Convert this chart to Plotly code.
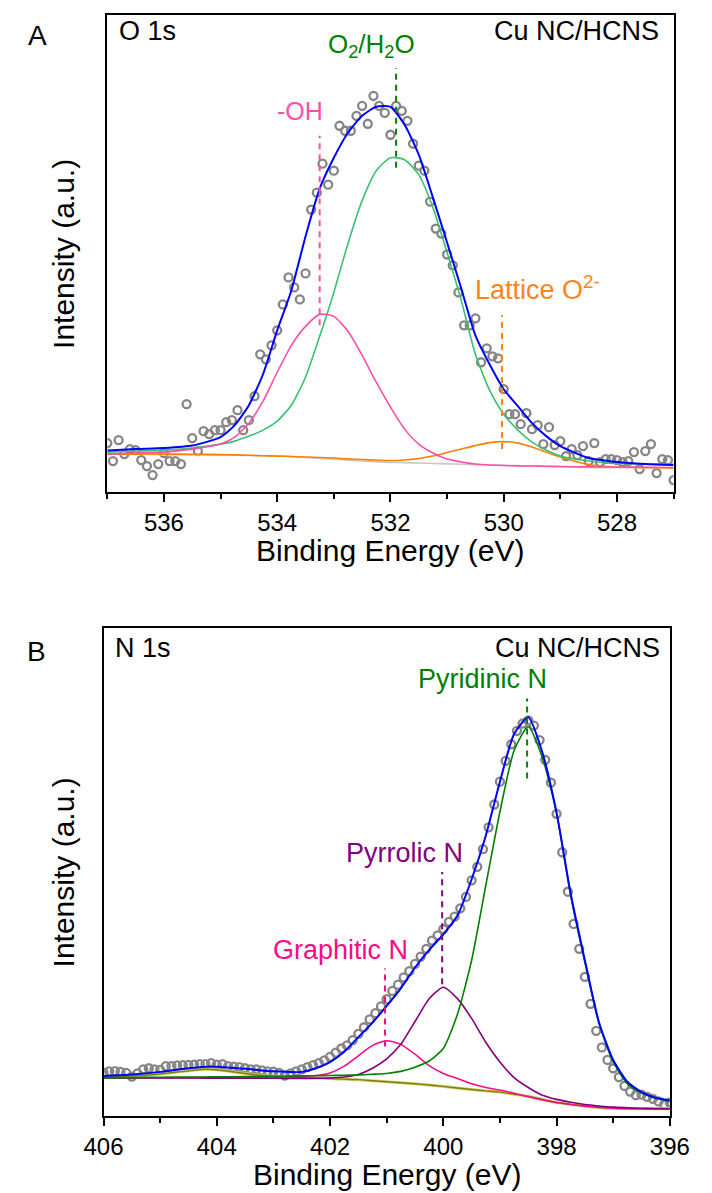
import plotly.graph_objects as go

W, H = 712, 1193

# ---------------- Panel A : O 1s ----------------
A_energy = [537.0, 536.9, 536.8, 536.7, 536.6, 536.5, 536.4, 536.3, 536.2, 536.1,
            536.0, 535.9, 535.8, 535.7, 535.6, 535.5, 535.4, 535.3, 535.2, 535.1,
            535.0, 534.9, 534.8, 534.7, 534.6, 534.5, 534.4, 534.3, 534.2, 534.1,
            534.0, 533.9, 533.8, 533.7, 533.6, 533.5, 533.4, 533.3, 533.2, 533.1,
            533.0, 532.9, 532.8, 532.7, 532.6, 532.5, 532.4, 532.3, 532.2, 532.1,
            532.0, 531.9, 531.8, 531.7, 531.6, 531.5, 531.4, 531.3, 531.2, 531.1,
            531.0, 530.9, 530.8, 530.7, 530.6, 530.5, 530.4, 530.3, 530.2, 530.1,
            530.0, 529.9, 529.8, 529.7, 529.6, 529.5, 529.4, 529.3, 529.2, 529.1,
            529.0, 528.9, 528.8, 528.7, 528.6, 528.5, 528.4, 528.3, 528.2, 528.1,
            528.0, 527.9, 527.8, 527.7, 527.6, 527.5, 527.4, 527.3, 527.2, 527.1, 527.0]
A_counts = [49, 31, 52, 38, 43, 42, 32, 26, 17, 28,
            39, 31, 31, 28, 88, 54, 41, 61, 58, 62,
            62, 70, 72, 82, 62, 72, 96, 138, 133, 147,
            162, 188, 215, 205, 193, 219, 283, 300, 329, 308,
            322, 367, 362, 362, 377, 387, 369, 397, 387, 380,
            358, 387, 382, 372, 349, 327, 322, 291, 264, 259,
            238, 227, 200, 167, 167, 174, 130, 144, 136, 134,
            103, 78, 78, 68, 79, 63, 67, 48, 65, 47,
            51, 36, 43, 37, 46, 31, 49, 30, 33, 33,
            32, 30, 31, 40, 23, 41, 48, 19, 33, 32, 12]

A_fit_energy = [537.0, 536.5, 536.0, 535.5, 535.0, 534.75, 534.5, 534.25, 534.0, 533.75,
                533.5, 533.25, 533.0, 532.75, 532.5, 532.25, 532.0, 531.75, 531.5, 531.25,
                531.0, 530.75, 530.5, 530.25, 530.0, 529.75, 529.5, 529.25, 529.0, 528.5,
                528.0, 527.5, 527.0]
A_envelope = [41.5, 43, 44, 46.5, 55, 67, 87, 118, 162, 202,
              256, 304, 335, 360, 377, 386, 386, 368, 338, 295,
              250, 204, 157, 128, 103, 86, 69, 56, 46, 34,
              30, 28, 27]
A_O2H2O = [40, 41, 42, 44, 48, 51, 56, 62, 71, 87,
           115, 156, 200, 249, 292, 322, 335, 333, 318, 285,
           240, 192, 138, 102, 78, 62, 50, 42, 36, 31,
           28.5, 28, 28]
A_OH = [38, 39, 40, 43, 48, 55, 69, 91, 120, 147,
        166, 178, 176, 161, 137, 110, 85, 63, 48, 39,
        33, 30, 28, 27, 26.5, 26.2, 26, 25.8, 25.5, 25.2,
        25, 24.8, 24.5]
A_lattice = [38, 38, 38, 37.8, 37.5, 37.2, 36.8, 36.4, 36, 35.5,
             35, 34.5, 34, 33.2, 32.5, 32, 31.5, 32, 33.5, 36,
             39.5, 43, 46.5, 49.5, 50.5, 49, 45, 40, 35, 27.5,
             25, 24.5, 24]
A_background = [38, 37.8, 37.5, 37.2, 37, 36.8, 36.6, 36.3, 36, 35.5,
                34.6, 33.7, 32.8, 31.9, 31, 30.2, 29.7, 29.3, 29, 28.6,
                28.2, 27.8, 27.4, 27.1, 26.8, 26.4, 26, 25.6, 25.3, 24.5,
                24.3, 24.2, 24]
A_peak_names = ["-OH", "O<sub>2</sub>/H<sub>2</sub>O", "Lattice O<sup>2-</sup>"]
A_peak_centers = [533.25, 531.9, 530.03]

# ---------------- Panel B : N 1s ----------------
B_energy = [406.0, 405.9, 405.8, 405.7, 405.6, 405.5, 405.4, 405.3, 405.2, 405.1,
            405.0, 404.9, 404.8, 404.7, 404.6, 404.5, 404.4, 404.3, 404.2, 404.1,
            404.0, 403.9, 403.8, 403.7, 403.6, 403.5, 403.4, 403.3, 403.2, 403.1,
            403.0, 402.9, 402.8, 402.7, 402.6, 402.5, 402.4, 402.3, 402.2, 402.1,
            402.0, 401.9, 401.8, 401.7, 401.6, 401.5, 401.4, 401.3, 401.2, 401.1,
            401.0, 400.9, 400.8, 400.7, 400.6, 400.5, 400.4, 400.3, 400.2, 400.1,
            400.0, 399.9, 399.8, 399.7, 399.6, 399.5, 399.4, 399.3, 399.2, 399.1,
            399.0, 398.9, 398.8, 398.7, 398.6, 398.5, 398.4, 398.3, 398.2, 398.1,
            398.0, 397.9, 397.8, 397.7, 397.6, 397.5, 397.4, 397.3, 397.2, 397.1,
            397.0, 396.9, 396.8, 396.7, 396.6, 396.5, 396.4, 396.3, 396.2, 396.1, 396.0]
B_counts = [41.7, 43, 43.3, 42.5, 41.5, 38, 41, 45, 46, 45,
            44.5, 48, 48, 48.7, 49, 49.3, 49.5, 50, 50, 51,
            49.5, 50, 48, 47.5, 47, 46, 45, 45, 44, 43,
            42.7, 41.5, 39, 41, 43, 45, 47, 49, 51, 53.5,
            57, 61, 65, 68, 73, 79, 85.5, 93, 99, 105.5,
            112.5, 120.5, 126.5, 133.5, 139.5, 146.5, 153.5, 161, 169, 174,
            180, 187, 192, 200, 211, 227, 240, 257, 278, 300,
            322, 342, 358, 371, 378, 381, 376, 362, 343, 321,
            291, 254, 216, 185, 161, 134, 108, 82, 66, 54,
            46, 37.5, 29, 23.5, 20, 20.5, 18.5, 16.5, 14, 11, 13]

B_fit_energy = [406.0, 405.5, 405.0, 404.5, 404.2, 404.0, 403.5, 403.0, 402.5, 402.25,
                402.0, 401.75, 401.5, 401.25, 401.0, 400.75, 400.5, 400.25, 400.0, 399.75,
                399.5, 399.25, 399.0, 398.75, 398.5, 398.25, 398.0, 397.75, 397.5, 397.25,
                397.0, 396.75, 396.5, 396.25, 396.0]
B_envelope = [38.5, 40, 42.5, 46, 47.5, 47.5, 45.5, 43, 42.5, 46,
              52, 62, 76, 90, 106, 123, 143, 160, 175, 193,
              228, 270, 322, 368, 384, 350, 292, 214, 150, 90,
              54, 33, 23, 17.5, 15]
B_pyridinic = [36.7, 37, 37.3, 37.5, 37.6, 37.7, 38, 38.3, 38.6, 38.8,
               39, 39.3, 39.5, 40.2, 41, 43, 47, 53, 65, 98,
               150, 222, 293, 352, 375, 345, 292, 212, 148, 89,
               52, 31, 22, 17, 14]
B_pyrrolic = [36.7, 36.7, 36.6, 36.6, 36.5, 36.5, 36.4, 36.3, 36.2, 36.3,
              36.5, 37.5, 40, 46, 55, 69, 91, 113, 124, 113,
              94, 71, 52, 37, 27.5, 20, 16, 13.2, 11, 9.6,
              8.5, 8, 7.5, 7.2, 7]
B_graphitic = [36.7, 36.8, 36.8, 36.9, 37, 37, 37.3, 37.5, 38, 39,
               41.5, 48, 58, 68, 72.5, 69, 59.5, 48.5, 41, 36,
               31, 27.5, 25, 22, 18.5, 15.5, 13, 11, 9.5, 8.3,
               7.5, 7.1, 7, 6.8, 6.7]
B_background = [37.5, 38.5, 40.5, 43.5, 45, 44.5, 41, 38, 37, 36.5,
                36, 35.5, 35, 34, 33, 32, 31, 29.8, 28.5, 27,
                25.5, 24.2, 23, 21, 19, 16, 13, 11.2, 9.5, 8.3,
                7.5, 7.2, 7, 7, 7]
B_peak_names = ["Graphitic N", "Pyrrolic N", "Pyridinic N"]
B_peak_centers = [401.03, 400.02, 398.52]

# ---------------- geometry ----------------
FONT = "Liberation Sans, Arial, sans-serif"

def xd(l, r):
    return [l / W, r / W]

def yd(t, b):
    return [1 - b / H, 1 - t / H]

A_L, A_R, A_T, A_B = 92.5, 692.5, 15, 492
B_L, B_R, B_T, B_B = 88.5, 688.5, 628, 1116

fig = go.Figure()

marker = dict(symbol="circle-open", size=8, color="#858585", line=dict(width=2.3, color="#858585"))

def line(x, y, color, width, xa, ya):
    fig.add_trace(go.Scatter(x=x, y=y, mode="lines",
                             line=dict(color=color, width=width, shape="spline", smoothing=0.6),
                             xaxis=xa, yaxis=ya, showlegend=False, hoverinfo="skip"))

# Panel A traces
fig.add_trace(go.Scatter(x=A_energy, y=A_counts, mode="markers", marker=marker,
                         xaxis="x", yaxis="y", showlegend=False))
line(A_fit_energy, A_background, "#C8C8C8", 1.6, "x", "y")
line(A_fit_energy, A_lattice, "#FF8000", 1.6, "x", "y")
line(A_fit_energy, A_O2H2O, "#3CC073", 1.6, "x", "y")
line(A_fit_energy, A_OH, "#FF4FA8", 1.6, "x", "y")
line(A_fit_energy, A_envelope, "#0000FF", 2.0, "x", "y")

# Panel B traces
fig.add_trace(go.Scatter(x=B_energy, y=B_counts, mode="markers", marker=marker,
                         xaxis="x2", yaxis="y2", showlegend=False))
line(B_fit_energy, B_background, "#D2D27A", 3.0, "x2", "y2")
line(B_fit_energy, B_background, "#808000", 1.4, "x2", "y2")
line(B_fit_energy, B_graphitic, "#FF0A84", 1.6, "x2", "y2")
line(B_fit_energy, B_pyrrolic, "#800080", 1.6, "x2", "y2")
line(B_fit_energy, B_pyridinic, "#008000", 1.6, "x2", "y2")
line(B_fit_energy, B_envelope, "#0000FF", 2.0, "x2", "y2")

shapes = []
annotations = []

def vdash(xv, y0, y1, color, xr, yr):
    shapes.append(dict(type="line", xref=xr, yref=yr, x0=xv, x1=xv, y0=y0, y1=y1,
                       line=dict(color=color, width=2, dash="6px,5px")))

def label(text, xv, yv, color, xr, yr, size=27):
    annotations.append(dict(text=text, x=xv, y=yv, xref=xr, yref=yr, showarrow=False,
                            font=dict(family=FONT, size=size, color=color),
                            xanchor="center", yanchor="middle"))

# Panel A peak markers
vdash(A_peak_centers[0], 167, 357, "#FF4FA8", "x", "y")
label(A_peak_names[0], A_peak_centers[0] + 0.35, 382, "#FF4FA8", "x", "y", 25)
vdash(A_peak_centers[1], 325, 425, "#008000", "x", "y")
label(A_peak_names[1], A_peak_centers[1] + 0.44, 447, "#008000", "x", "y", 26)
vdash(A_peak_centers[2], 43, 177, "#FF8419", "x", "y")
label(A_peak_names[2], A_peak_centers[2] - 0.62, 204, "#FF8419", "x", "y", 27)

# Panel B peak markers
vdash(B_peak_centers[0], 67, 142, "#FF0A84", "x2", "y2")
label(B_peak_names[0], B_peak_centers[0] + 0.78, 160, "#FF0A84", "x2", "y2")
vdash(B_peak_centers[1], 127, 235, "#800080", "x2", "y2")
label(B_peak_names[1], B_peak_centers[1] + 0.66, 253, "#800080", "x2", "y2")
vdash(B_peak_centers[2], 325, 402, "#008000", "x2", "y2")
label(B_peak_names[2], B_peak_centers[2] + 0.78, 421, "#008000", "x2", "y2")

def paper_label(text, px, py, size, xanchor="center", angle=0):
    annotations.append(dict(text=text, x=px / W, y=1 - py / H, xref="paper", yref="paper",
                            showarrow=False, font=dict(family=FONT, size=size, color="black"),
                            xanchor=xanchor, yanchor="middle", textangle=angle))

paper_label("A", 19, 36, 28)
paper_label("B", 18, 651, 28)
paper_label("O 1s", 103, A_T + 16, 27, "left")
paper_label("Cu NC/HCNS", 679, A_T + 16, 27, "right")
paper_label("N 1s", 99, B_T + 20, 27, "left")
paper_label("Cu NC/HCNS", 680, B_T + 20, 27, "right")
paper_label("Binding Energy (eV)", (A_L + A_R) / 2, A_B + 58, 30)
paper_label("Binding Energy (eV)", (B_L + B_R) / 2, B_B + 58, 30)
paper_label("Intensity (a.u.)", 46, (A_T + A_B) / 2, 30, angle=-90)
paper_label("Intensity (a.u.)", 46, (B_T + B_B) / 2, 30, angle=-90)

xcommon = dict(showline=True, linewidth=2, linecolor="black", mirror=True, ticks="outside",
               ticklen=8, tickwidth=1.5, tickcolor="black", dtick=2, tick0=0,
               minor=dict(dtick=1, ticks="outside", ticklen=5, tickwidth=1.5, tickcolor="black"),
               tickfont=dict(family=FONT, size=24, color="black"), showgrid=False, zeroline=False)
ycommon = dict(showline=True, linewidth=2, linecolor="black", mirror=True, ticks="",
               showticklabels=False, showgrid=False, zeroline=False)

fig.update_layout(
    width=W, height=H, margin=dict(l=0, r=0, t=0, b=0),
    paper_bgcolor="white", plot_bgcolor="white", showlegend=False,
    xaxis=dict(domain=xd(A_L, A_R), range=[537, 527], anchor="y", **xcommon),
    yaxis=dict(domain=yd(A_T, A_B), range=[0, 478], anchor="x", **ycommon),
    xaxis2=dict(domain=xd(B_L, B_R), range=[406, 396], anchor="y2", **xcommon),
    yaxis2=dict(domain=yd(B_T, B_B), range=[0, 470], anchor="x2", **ycommon),
    shapes=shapes, annotations=annotations,
)

fig.write_html("out.html", config={"displayModeBar": False},
               post_script="document.body.style.margin='0px';")
